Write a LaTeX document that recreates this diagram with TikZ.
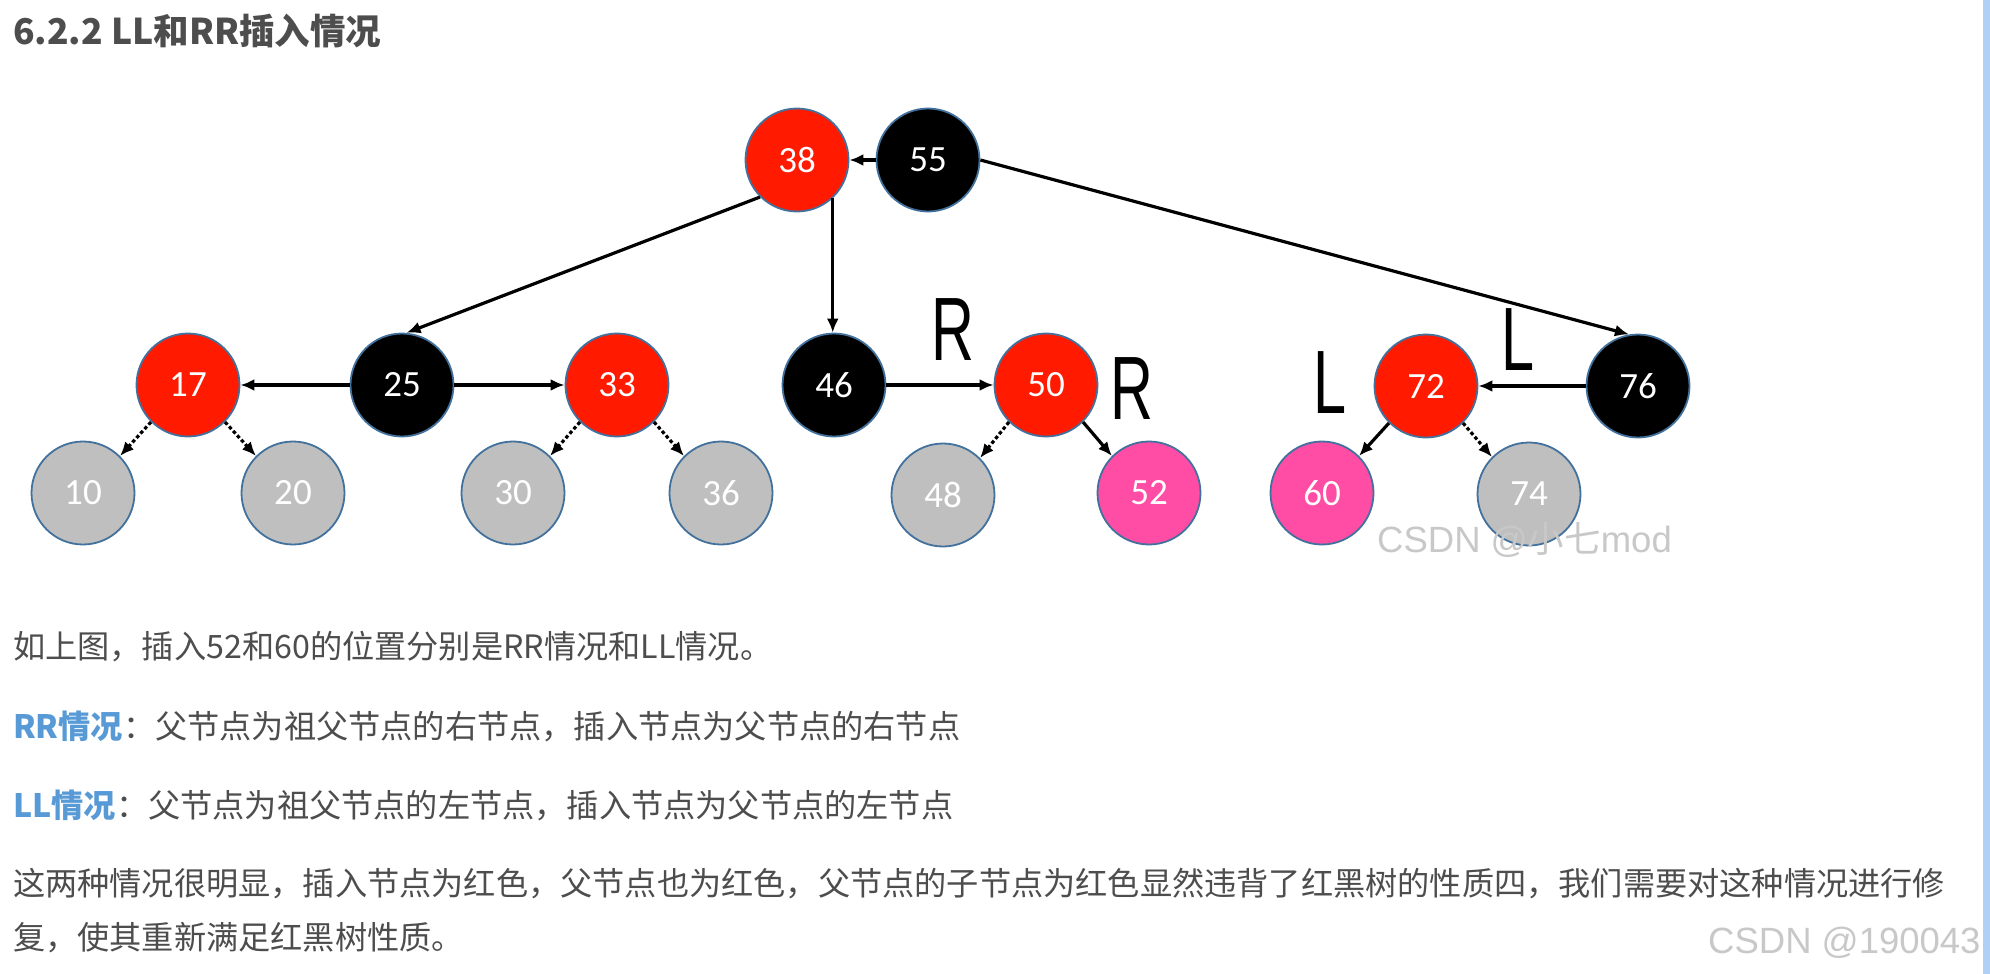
\documentclass[tikz,border=0pt]{standalone}
\usepackage{fontspec}
\setmainfont{Liberation Sans}
\newfontfamily\cjk{Noto Sans CJK SC}
\newfontfamily\numfont{Carlito}
\usetikzlibrary{arrows.meta}
\definecolor{nred}{RGB}{255,26,0}
\definecolor{npink}{RGB}{255,77,166}
\definecolor{ngray}{RGB}{191,191,191}
\definecolor{nborder}{RGB}{65,113,156}
\definecolor{txtgray}{RGB}{77,77,77}
\definecolor{kblue}{RGB}{88,154,214}
\definecolor{wmgray}{RGB}{200,200,200}
\definecolor{barblue}{RGB}{176,208,245}
\begin{document}
\begin{tikzpicture}[x=1pt,y=-1pt,
  tn/.style={circle, minimum size=103pt, inner sep=0pt, draw=nborder, line width=1.8pt,
    font=\numfont\fontsize{37}{40}\selectfont, text=white},
  rednode/.style={tn, fill=nred},
  blacknode/.style={tn, fill=black},
  graynode/.style={tn, fill=ngray},
  pinknode/.style={tn, fill=npink},
  arr/.style={-{Latex[length=14pt,width=12pt]}, line width=3.2pt, black},
  dotarr/.style={arr, dash pattern=on 3.5pt off 2.5pt},
  hand/.style={font=\fontsize{90}{90}\selectfont, xscale=0.66, inner sep=0pt, text=black},
  body/.style={anchor=base west, inner sep=0pt, text=txtgray, font=\cjk\fontsize{32.2}{38}\selectfont},
  wm/.style={anchor=base west, inner sep=0pt, text=wmgray, font=\fontsize{36.5}{40}\selectfont}
]
\useasboundingbox (0,0) rectangle (1990,974);
\fill[white] (0,0) rectangle (1990,974);

% title
\node[anchor=base west, inner sep=0pt, text=txtgray, font=\cjk\bfseries\fontsize{35.5}{40}\selectfont] (title) at (13,45) {6.2.2 LL和RR插入情况};

% nodes
\node[rednode] (n38) at (797,160) {38};
\node[blacknode] (n55) at (928,160) {55};
\node[rednode] (n17) at (188,385) {17};
\node[blacknode] (n25) at (402,385) {25};
\node[rednode] (n33) at (617,385) {33};
\node[blacknode] (n46) at (834,385) {46};
\node[rednode] (n50) at (1046,385) {50};
\node[rednode] (n72) at (1426,386) {72};
\node[blacknode] (n76) at (1638,386) {76};
\node[graynode] (n10) at (83,493) {10};
\node[graynode] (n20) at (293,493) {20};
\node[graynode] (n30) at (513,493) {30};
\node[graynode] (n36) at (721,493) {36};
\node[graynode] (n48) at (943,495) {48};
\node[pinknode] (n52) at (1149,493) {52};
\node[pinknode] (n60) at (1322,493) {60};
\node[graynode] (n74) at (1529,494) {74};

% edges
\draw[arr] (n55) -- (n38);
\draw[arr] (n38.south west) -- (n25.85);
\draw[arr] (n38.-47) -- (n38.-47 |- n46.north);
\draw[arr] (n55.east) -- (n76.100);
\draw[arr] (n25) -- (n17);
\draw[arr] (n25) -- (n33);
\draw[arr] (n46) -- (n50);
\draw[arr] (n76) -- (n72);
\draw[dotarr] (n17.south west) -- (n10.north east);
\draw[dotarr] (n17.south east) -- (n20.north west);
\draw[dotarr] (n33.south west) -- (n30.north east);
\draw[dotarr] (n33.south east) -- (n36.north west);
\draw[dotarr] (n50.south west) -- (n48.north east);
\draw[dotarr] (n72.south east) -- (n74.north west);
\draw[arr] (n50.south east) -- (n52.north west);
\draw[arr] (n72.south west) -- (n60.north east);

% handwritten labels
\node[hand] (r1) at (953,330) {R};
\node[hand] (r2) at (1132,389) {R};
\node[hand] (l1) at (1330,383) {L};
\node[hand] (l2) at (1518,340) {L};

% watermark in figure
\node[wm] (wm1) at (1377,552) {CSDN @{\cjk 小七}mod};

% body text
\node[body] (p1) at (13,658) {如上图，插入52和60的位置分别是RR情况和LL情况。};
\node[body] (p2) at (13,738) {{\bfseries\color{kblue}RR情况}：父节点为祖父节点的右节点，插入节点为父节点的右节点};
\node[body] (p3) at (13,817) {{\bfseries\color{kblue}LL情况}：父节点为祖父节点的左节点，插入节点为父节点的左节点};
\node[body] (p4) at (13,895) {这两种情况很明显，插入节点为红色，父节点也为红色，父节点的子节点为红色显然违背了红黑树的性质四，我们需要对这种情况进行修};
\node[body] (p5) at (13,949) {复，使其重新满足红黑树性质。};

% bottom watermark
\node[wm] (wm2) at (1708,953) {CSDN @190043};

% right edge bar
\fill[barblue] (1983,0) rectangle (1990,974);
\end{tikzpicture}
\end{document}
